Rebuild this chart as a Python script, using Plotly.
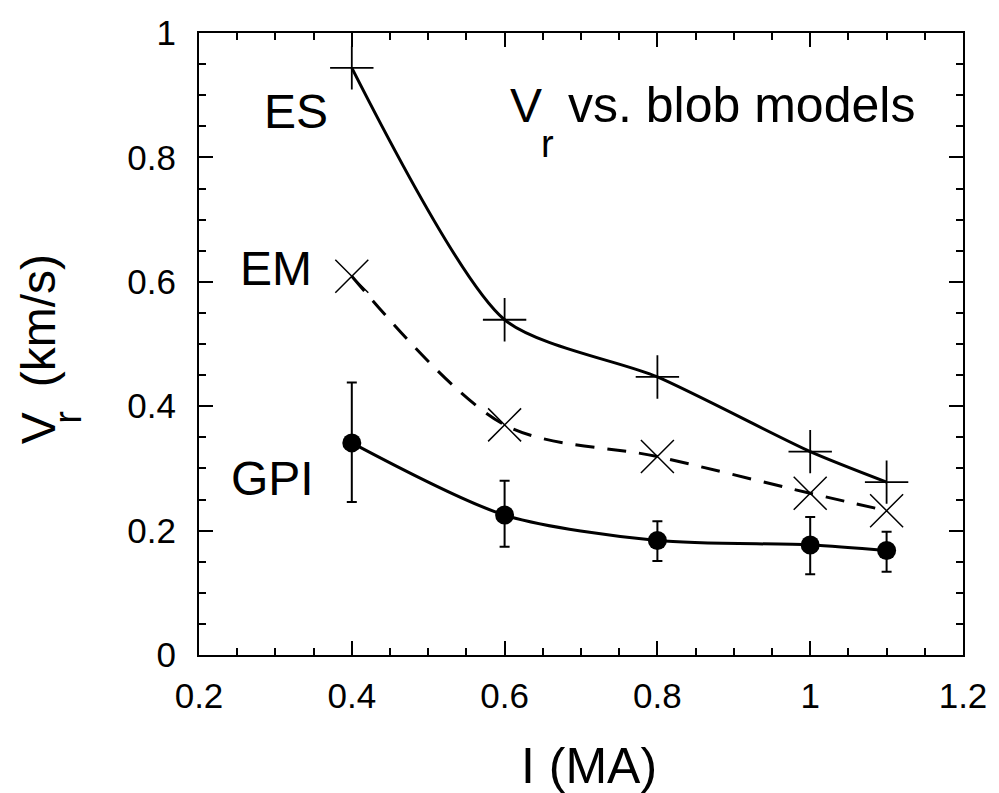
import plotly.graph_objects as go

# ---- data ----
current_MA = [0.4, 0.6, 0.8, 1.0, 1.1]
es_vr = [0.944, 0.539, 0.447, 0.327, 0.278]
em_vr = [0.609, 0.370, 0.319, 0.260, 0.232]
gpi_vr = [0.341, 0.225, 0.184, 0.177, 0.168]
gpi_err_plus = [0.097, 0.055, 0.031, 0.045, 0.030]
gpi_err_minus = [0.095, 0.051, 0.033, 0.047, 0.034]

x_ticks = [0.2, 0.4, 0.6, 0.8, 1.0, 1.2]
x_tick_text = ["0.2", "0.4", "0.6", "0.8", "1", "1.2"]
y_ticks = [0, 0.2, 0.4, 0.6, 0.8, 1.0]
y_tick_text = ["0", "0.2", "0.4", "0.6", "0.8", "1"]

FONT = "Liberation Sans, Arial, Helvetica, sans-serif"
BLACK = "#000000"

fig = go.Figure()

fig.add_trace(go.Scatter(
    x=current_MA, y=es_vr, mode="lines+markers", name="ES",
    line=dict(color=BLACK, width=3, shape="spline", smoothing=0.7),
    marker=dict(symbol="cross-thin", size=31, line=dict(color=BLACK, width=1.8)),
))
fig.add_trace(go.Scatter(
    x=current_MA, y=em_vr, mode="lines+markers", name="EM",
    line=dict(color=BLACK, width=3, shape="spline", smoothing=0.9, dash="19px,13px"),
    marker=dict(symbol="x-thin", size=33, line=dict(color=BLACK, width=1.5)),
))
fig.add_trace(go.Scatter(
    x=current_MA, y=gpi_vr, mode="lines+markers", name="GPI",
    line=dict(color=BLACK, width=3, shape="spline", smoothing=0.8),
    marker=dict(symbol="circle", size=19, color=BLACK),
    error_y=dict(type="data", symmetric=False, array=gpi_err_plus,
                 arrayminus=gpi_err_minus, color=BLACK, thickness=2, width=5),
))

axis_common = dict(
    showline=True, linecolor=BLACK, linewidth=2, mirror="ticks",
    ticks="inside", ticklen=14, tickwidth=2, tickcolor=BLACK,
    showgrid=False, zeroline=False,
    tickfont=dict(family=FONT, size=35, color=BLACK),
    minor=dict(ticks="inside", ticklen=7, tickwidth=2, tickcolor=BLACK, dtick=0.05, showgrid=False),
)

fig.update_xaxes(range=[0.2, 1.2], tickvals=x_ticks, ticktext=x_tick_text,
                 ticklabelstandoff=9, **axis_common)
fig.update_yaxes(range=[0, 1], tickvals=y_ticks, ticktext=y_tick_text,
                 ticklabelstandoff=14, **axis_common)

big = dict(family=FONT, size=48, color=BLACK)
sub = dict(family=FONT, size=38, color=BLACK)
C = dict(showarrow=False, xanchor="center", yanchor="middle")
ann = []
# series labels (data coords)
ann.append(dict(x=0.327, y=0.873, xref="x", yref="y", text="ES", font=big, **C))
ann.append(dict(x=0.301, y=0.621, xref="x", yref="y", text="EM", font=big, **C))
ann.append(dict(x=0.296, y=0.283, xref="x", yref="y", text="GPI", font=big, **C))
# in-plot title
ann.append(dict(x=0.604, y=0.884, xref="x", yref="y", text="V", font=big,
                showarrow=False, xanchor="left", yanchor="middle"))
ann.append(dict(x=0.656, y=0.822, xref="x", yref="y", text="r", font=sub, **C))
ann.append(dict(x=0.681, y=0.884, xref="x", yref="y", text="vs. blob models", font=dict(family=FONT, size=50, color=BLACK),
                showarrow=False, xanchor="left", yanchor="middle"))
# axis titles
ann.append(dict(x=0.51, y=-0.178, xref="paper", yref="paper", text="I (MA)", font=dict(family=FONT, size=50, color=BLACK), **C))
ann.append(dict(x=-0.209, y=0.537, xref="paper", yref="paper", text="(km/s)", textangle=-90, font=big, **C))
ann.append(dict(x=-0.209, y=0.365, xref="paper", yref="paper", text="V", textangle=-90, font=big, **C))
ann.append(dict(x=-0.171, y=0.382, xref="paper", yref="paper", text="r", textangle=-90, font=sub, **C))

fig.update_layout(
    width=999, height=793,
    margin=dict(l=199, r=31, t=33, b=138),
    paper_bgcolor="white", plot_bgcolor="white",
    showlegend=False,
    annotations=ann,
    font=dict(family=FONT, color=BLACK),
)

fig.write_html("out.html")
